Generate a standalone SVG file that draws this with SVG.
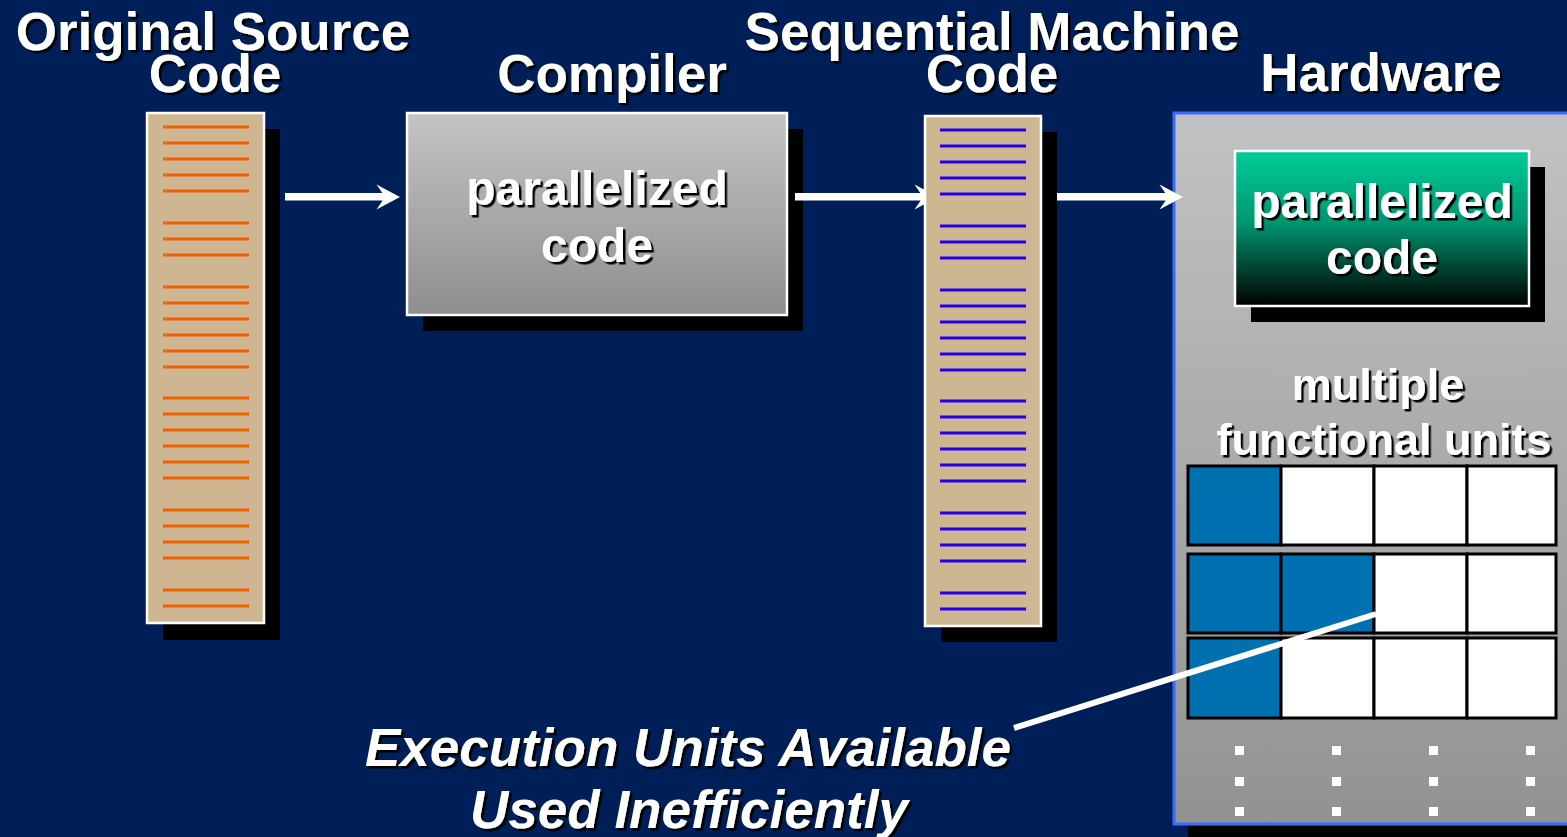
<svg xmlns="http://www.w3.org/2000/svg" xmlns:xlink="http://www.w3.org/1999/xlink" width="1567" height="837" viewBox="0 0 1567 837">
<style>
.title{font-family:"Liberation Sans",Arial,sans-serif;font-weight:bold;font-size:53px;fill:#fff;text-anchor:middle;filter:url(#sh)}
.box{font-family:"Liberation Sans",Arial,sans-serif;font-weight:bold;font-size:48px;fill:#fff;text-anchor:middle;filter:url(#sh)}
.mid{font-family:"Liberation Sans",Arial,sans-serif;font-weight:bold;font-size:45px;fill:#fff;text-anchor:middle;filter:url(#sh)}
.note{font-family:"Liberation Sans",Arial,sans-serif;font-weight:bold;font-style:italic;font-size:53px;fill:#fff;text-anchor:middle;filter:url(#sh)}
.shadow{fill:#000}
.col{fill:#CFB692;stroke:#fff;stroke-width:2.5}
.ol{stroke:#EE6200;stroke-width:3}
.bl{stroke:#2200EE;stroke-width:3}
.cell{stroke:#000;stroke-width:3}
.blue{fill:#0070B0}
.white{fill:#fff}
.dot{fill:#fff}
.arrow{fill:#fff}
</style>
<defs>
<filter id="sh" x="-10%" y="-10%" width="120%" height="130%">
<feDropShadow dx="2.5" dy="2.5" stdDeviation="0.3" flood-color="#000" flood-opacity="1"/>
</filter>
<linearGradient id="grey" x1="0" y1="0" x2="0" y2="1">
<stop offset="0" stop-color="#C4C4C4"/>
<stop offset="1" stop-color="#8E8E8E"/>
</linearGradient>
<linearGradient id="hw" x1="0" y1="0" x2="0" y2="1">
<stop offset="0" stop-color="#C2C2C2"/>
<stop offset="1" stop-color="#929292"/>
</linearGradient>
<linearGradient id="green" x1="0" y1="0" x2="0" y2="1">
<stop offset="0" stop-color="#00CC99"/>
<stop offset="0.45" stop-color="#009872"/>
<stop offset="1" stop-color="#000000"/>
</linearGradient>
<path id="ah" d="M0,0 L-23.5,-12.5 L-17.5,-3.8 L-17.5,3.8 L-23.5,12.5 Z"/>
<path id="lines5" d="M0,0h86M0,16h86M0,32h86M0,48h86M0,64h86"/>
</defs>
<rect width="1567" height="837" fill="#001E57"/>

<g id="hardware">
<rect class="shadow" x="1188" y="826" width="379" height="11"/>
<rect x="1174" y="113" width="400" height="711" fill="url(#hw)" stroke="#3A6BFF" stroke-width="3"/>
<text class="title" x="1381" y="91">Hardware</text>
<rect class="shadow" x="1251" y="167" width="294" height="155"/>
<rect x="1235" y="151" width="294" height="155" fill="url(#green)" stroke="#fff" stroke-width="2.5"/>
<text class="box" x="1382" y="218">parallelized</text>
<text class="box" x="1382" y="274">code</text>
<text class="mid" x="1378" y="400">multiple</text>
<text class="mid" x="1384" y="455">functional units</text>
<g id="units">
<rect class="cell blue" x="1188" y="466" width="93" height="79"/>
<rect class="cell white" x="1281" y="466" width="93" height="79"/>
<rect class="cell white" x="1374" y="466" width="93" height="79"/>
<rect class="cell white" x="1467" y="466" width="89" height="79"/>
<rect class="cell blue" x="1188" y="554" width="93" height="79"/>
<rect class="cell blue" x="1281" y="554" width="93" height="79"/>
<rect class="cell white" x="1374" y="554" width="93" height="79"/>
<rect class="cell white" x="1467" y="554" width="89" height="79"/>
<rect class="cell blue" x="1188" y="638" width="93" height="80"/>
<rect class="cell white" x="1281" y="638" width="93" height="80"/>
<rect class="cell white" x="1374" y="638" width="93" height="80"/>
<rect class="cell white" x="1467" y="638" width="89" height="80"/>
</g>
<g id="dots">
<rect class="dot" x="1235" y="746" width="9" height="9"/><rect class="dot" x="1332" y="746" width="9" height="9"/><rect class="dot" x="1429" y="746" width="9" height="9"/><rect class="dot" x="1526" y="746" width="9" height="9"/>
<rect class="dot" x="1235" y="777" width="9" height="9"/><rect class="dot" x="1332" y="777" width="9" height="9"/><rect class="dot" x="1429" y="777" width="9" height="9"/><rect class="dot" x="1526" y="777" width="9" height="9"/>
<rect class="dot" x="1235" y="807" width="9" height="9"/><rect class="dot" x="1332" y="807" width="9" height="9"/><rect class="dot" x="1429" y="807" width="9" height="9"/><rect class="dot" x="1526" y="807" width="9" height="9"/>
</g>
</g>

<g id="source">
<text class="title" x="213" y="50">Original Source</text>
<text class="title" x="215" y="92">Code</text>
<rect class="shadow" x="163" y="129" width="117" height="511"/>
<rect class="col" x="147" y="113" width="117" height="510"/>
<g class="ol" fill="none">
<use xlink:href="#lines5" x="163" y="127"/>
<path d="M163,223h86M163,239h86M163,255h86"/>
<use xlink:href="#lines5" x="163" y="287"/>
<path d="M163,367h86"/>
<use xlink:href="#lines5" x="163" y="398"/>
<path d="M163,478h86"/>
<path d="M163,510h86M163,526h86M163,542h86M163,558h86"/>
<path d="M163,590h86M163,606h86"/>
</g>
</g>

<g id="compiler">
<text class="title" x="612" y="92">Compiler</text>
<rect class="shadow" x="423" y="129" width="380" height="202"/>
<rect x="407" y="113" width="380" height="202" fill="url(#grey)" stroke="#fff" stroke-width="2.5"/>
<text class="box" x="597" y="205">parallelized</text>
<text class="box" x="597" y="262">code</text>
</g>

<g id="connectors">
<rect class="arrow" x="285" y="193" width="99" height="7.5"/>
<use class="arrow" xlink:href="#ah" x="400" y="197"/>
<rect class="arrow" x="795" y="193" width="127" height="7.5"/>
<use class="arrow" xlink:href="#ah" x="938" y="197"/>
<rect class="arrow" x="1057" y="193" width="111" height="7.5"/>
<use class="arrow" xlink:href="#ah" x="1183" y="197"/>
<line x1="1014" y1="728" x2="1376" y2="614" stroke="#fff" stroke-width="6"/>
</g>

<g id="machine">
<text class="title" x="992" y="50">Sequential Machine</text>
<text class="title" x="992" y="92">Code</text>
<rect class="shadow" x="941" y="132" width="116" height="510"/>
<rect class="col" x="925" y="116" width="116" height="510"/>
<g class="bl" fill="none">
<use xlink:href="#lines5" x="940" y="130"/>
<path d="M940,226h86M940,242h86M940,258h86"/>
<use xlink:href="#lines5" x="940" y="290"/>
<path d="M940,370h86"/>
<use xlink:href="#lines5" x="940" y="401"/>
<path d="M940,481h86"/>
<path d="M940,513h86M940,529h86M940,545h86M940,561h86"/>
<path d="M940,593h86M940,609h86"/>
</g>
</g>

<g id="label">
<text class="note" x="688" y="766">Execution Units Available</text>
<text class="note" x="689" y="828">Used Inefficiently</text>
</g>
</svg>
